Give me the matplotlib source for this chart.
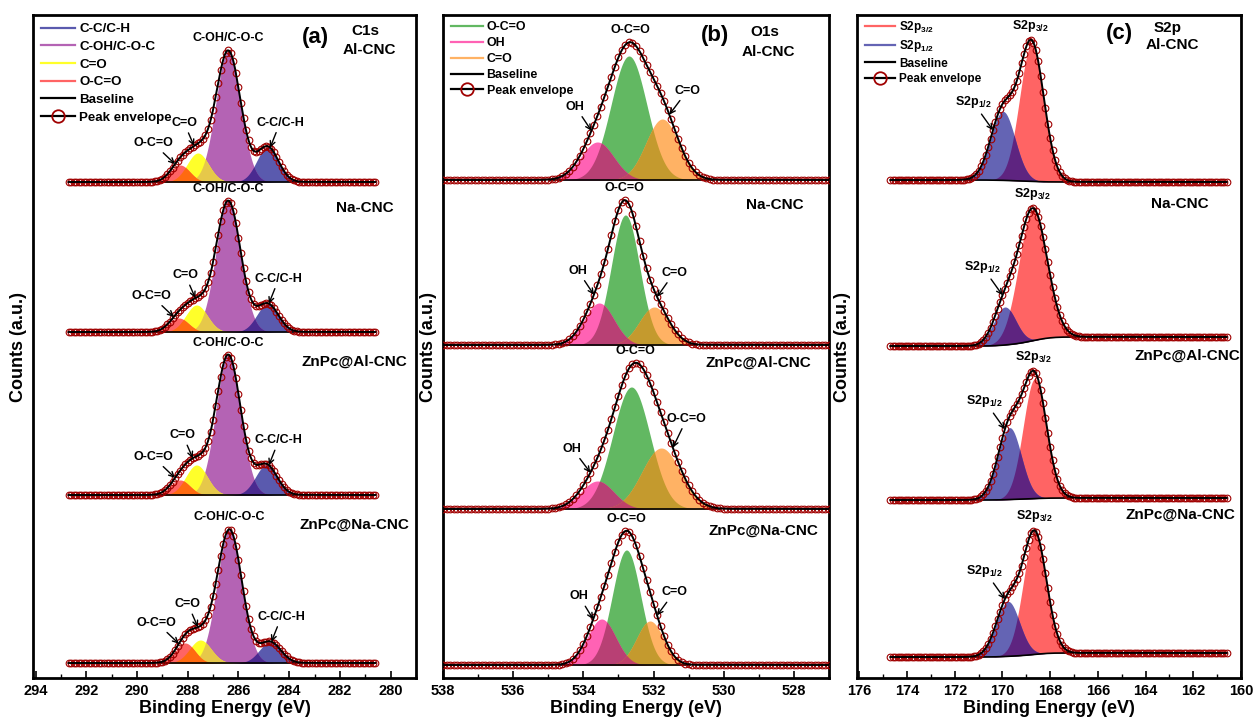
import numpy as np
import matplotlib
matplotlib.use('Agg')
import matplotlib.pyplot as plt
from matplotlib.lines import Line2D
from matplotlib.ticker import MultipleLocator

plt.rcParams['font.family'] = ['Liberation Sans', 'DejaVu Sans']
plt.rcParams['font.weight'] = 'bold'
plt.rcParams['mathtext.fontset'] = 'custom'
plt.rcParams['mathtext.bf'] = 'Liberation Sans:bold'
plt.rcParams['mathtext.rm'] = 'Liberation Sans:bold'

# ---------------- data ----------------
samples = ['Al-CNC', 'Na-CNC', 'ZnPc@Al-CNC', 'ZnPc@Na-CNC']

# C1s peak fits (centre eV, height a.u., FWHM eV) per sample
c1s_names = ['C-C/C-H', 'C-OH/C-O-C', 'C=O', 'O-C=O']
c1s_center = [[284.85, 286.40, 287.60, 288.30],
              [284.85, 286.40, 287.65, 288.35],
              [284.90, 286.40, 287.65, 288.30],
              [284.75, 286.35, 287.50, 288.10]]
c1s_height = [[0.35, 1.31, 0.29, 0.17],
              [0.28, 1.31, 0.27, 0.14],
              [0.30, 1.40, 0.30, 0.15],
              [0.21, 1.33, 0.23, 0.20]]
c1s_fwhm = [[1.0, 1.15, 1.0, 0.9],
            [1.0, 1.15, 1.0, 0.9],
            [1.0, 1.15, 1.0, 0.9],
            [1.0, 1.15, 1.0, 0.9]]
c1s_base_hi = [4.96, 3.46, 1.83, 0.15]
c1s_base_lo = [4.96, 3.46, 1.83, 0.15]
c1s_range = [292.7, 280.6]
c1s_top_label = ['C-OH/C-O-C'] * 4
c1s_arrow_labels = [['C-C/C-H', 'C=O', 'O-C=O']] * 4
c1s_arrow_energy = [[284.75, 287.75, 288.50],
                    [284.80, 287.70, 288.55],
                    [284.80, 287.80, 288.50],
                    [284.70, 287.60, 288.35]]

# O1s
o1s_names = ['O-C=O', 'OH', 'C=O']
o1s_center = [[532.70, 533.60, 531.75],
              [532.80, 533.55, 531.98],
              [532.63, 533.60, 531.78],
              [532.77, 533.48, 532.10]]
o1s_height = [[1.24, 0.38, 0.61],
              [1.30, 0.42, 0.38],
              [1.22, 0.28, 0.61],
              [1.15, 0.46, 0.44]]
o1s_fwhm = [[1.20, 1.10, 1.10],
            [0.95, 1.00, 1.00],
            [1.25, 1.10, 1.30],
            [0.95, 0.95, 0.90]]
o1s_base_hi = [4.98, 3.33, 1.69, 0.13]
o1s_base_lo = [4.98, 3.33, 1.69, 0.13]
o1s_range = [538.0, 527.0]
o1s_top_label = ['O-C=O'] * 4
o1s_arrow_labels = [['OH', 'C=O'], ['OH', 'C=O'], ['OH', 'O-C=O'], ['OH', 'C=O']]
o1s_arrow_energy = [[533.77, 531.55],
                    [533.70, 531.90],
                    [533.80, 531.45],
                    [533.72, 531.90]]

# S2p
s2p_names = [r'$\mathbf{S2p_{3/2}}$', r'$\mathbf{S2p_{1/2}}$']
s2p_center = [[168.77, 169.98],
              [168.72, 169.90],
              [168.64, 169.70],
              [168.64, 169.77]]
s2p_height = [[1.37, 0.69],
              [1.31, 0.38],
              [1.20, 0.72],
              [1.20, 0.55]]
s2p_fwhm = [[1.20, 1.20],
            [1.40, 1.10],
            [1.15, 1.15],
            [1.15, 1.15]]
s2p_base_hi = [4.98, 3.32, 1.78, 0.21]
s2p_base_lo = [4.96, 3.41, 1.80, 0.25]
s2p_range = [174.7, 160.6]
s2p_top_label = [r'$\mathbf{S2p_{3/2}}$'] * 4
s2p_arrow_labels = [[r'$\mathbf{S2p_{1/2}}$']] * 4
s2p_arrow_energy = [[170.40], [170.00], [169.90], [169.90]]

# ---------------- style ----------------
c1s_colors = ['#5a5aae', '#b463b4', '#ffff2a', '#ff6464']
o1s_colors = ['#62b862', '#ff62b4', '#ffb264']
s2p_colors = ['#ff6464', '#6464b4']
c1s_overlaps = {(0, 1): '#4a2a90', (1, 2): '#e6c84a', (2, 3): '#ff6a10'}
o1s_overlaps = {(0, 1): '#b84074', (0, 2): '#c49a2e', (1, 2): '#c0406a'}
s2p_overlaps = {(0, 1): '#5e2480'}

# text offsets (pixels) of arrow labels from their target points, per row
c1s_arrow_off = [[(10, 25), (-10, 23), (-22, 21)]] * 4
o1s_arrow_off = [[(-16, 24), (18, 24)],
                 [(-16, 24), (17, 24)],
                 [(-18, 24), (14, 29)],
                 [(-14, 23), (17, 23)]]
s2p_arrow_off = [[(-20, 28)]] * 4

FIG_W, FIG_H = 1256, 719
fig = plt.figure(figsize=(FIG_W / 100, FIG_H / 100), dpi=100)

def gauss(x, c, h, w):
    s = w / 2.3548
    return h * np.exp(-0.5 * ((x - c) / s) ** 2)

def draw_panel(ax, centers, heights, fwhms, base_hi, base_lo, erange, colors,
               overlaps, top_label, arrow_labels, arrow_energy, arrow_off):
    e = np.arange(erange[1], erange[0] + 1e-9, 0.1)
    ef = np.linspace(erange[1], erange[0], 1500)
    for r in range(len(centers)):
        def model(x):
            comps = [gauss(x, c, h, w) for c, h, w in zip(centers[r], heights[r], fwhms[r])]
            tot = np.sum(comps, axis=0)
            cum = np.cumsum(tot)
            frac = cum / cum[-1] if cum[-1] > 0 else cum
            base = base_lo[r] + (base_hi[r] - base_lo[r]) * frac
            return comps, tot, base
        comps, tot, base = model(ef)
        env = base + tot
        mask = tot > 0.004 * tot.max()
        idx = np.where(mask)[0]
        sl = slice(idx[0], idx[-1] + 1)
        for i, comp in enumerate(comps):
            ax.fill_between(ef[sl], base[sl], base[sl] + comp[sl], color=colors[i],
                            lw=0, zorder=1)
        for (i, j), col in overlaps.items():
            ov = np.minimum(comps[i], comps[j])
            ax.fill_between(ef[sl], base[sl], base[sl] + ov[sl], color=col, lw=0, zorder=1.5)
        ax.plot(ef[sl], base[sl], color='black', lw=1.2, zorder=2)
        # data points
        comps_d, tot_d, base_d = model(e)
        ax.plot(e, base_d + tot_d, ls='none', marker='o', ms=4.8, mfc='none',
                mec='#a00000', mew=0.8, zorder=3)
        ax.plot(ef, env, color='black', lw=1.4, zorder=4)
        # top label
        k = int(np.argmax(env))
        ax.annotate(top_label[r], xy=(ef[k], env[k]), xytext=(0, 6),
                    textcoords='offset pixels', ha='center', va='bottom',
                    fontsize=9, fontweight='bold', zorder=5)
        for lab, en, off in zip(arrow_labels[r], arrow_energy[r], arrow_off[r]):
            yv = np.interp(en, ef, env)
            ax.annotate(lab, xy=(en, yv), xytext=off, textcoords='offset pixels',
                        ha='center', va='center', fontsize=9, fontweight='bold',
                        arrowprops=dict(arrowstyle='->', color='black', lw=1.0,
                                        shrinkA=1, shrinkB=0), zorder=5)

def setup_axes(ax, xlim, major):
    ax.set_xlim(*xlim)
    ax.set_ylim(0, 6.63)
    ax.set_yticks([])
    ax.xaxis.set_major_locator(MultipleLocator(major))
    ax.xaxis.set_minor_locator(MultipleLocator(major / 2))
    ax.tick_params(axis='x', which='major', direction='in', length=5, width=1.2,
                   labelsize=10.5, pad=4, top=False)
    ax.tick_params(axis='x', which='minor', direction='in', length=3, width=1.0, top=False)
    for lab in ax.get_xticklabels():
        lab.set_fontweight('bold')
    for sp in ax.spines.values():
        sp.set_linewidth(2.0)
    ax.set_xlabel('Binding Energy (eV)', fontsize=13, fontweight='bold', labelpad=2)
    ax.set_ylabel('Counts (a.u.)', fontsize=13, fontweight='bold', labelpad=4)

def legend(ax, names, colors, anchor, spacing, size):
    handles = [Line2D([], [], color=c, lw=1.6) for c in colors]
    handles.append(Line2D([], [], color='black', lw=1.6))
    handles.append(Line2D([], [], color='black', lw=1.6, marker='o', ms=9,
                          mfc='none', mec='#a00000', mew=1.3))
    labels = list(names) + ['Baseline', 'Peak envelope']
    ax.legend(handles, labels, loc='upper left', bbox_to_anchor=anchor, frameon=False,
              handlelength=2.6, handletextpad=0.3, labelspacing=spacing,
              borderaxespad=0, borderpad=0, prop={'weight': 'bold', 'size': size})

def axes_at(x0, x1, y0=15, y1=678):
    return fig.add_axes([x0 / FIG_W, 1 - y1 / FIG_H, (x1 - x0) / FIG_W, (y1 - y0) / FIG_H])

def put(ax, px, py, s, size, x0, x1, y0=15, y1=678, ha='center'):
    ax.text((px - x0) / (x1 - x0), (y1 - py) / (y1 - y0), s, transform=ax.transAxes,
            ha=ha, va='center', fontsize=size, fontweight='bold')

# panel (a)
ax1 = axes_at(33, 416)
setup_axes(ax1, (294.1, 279.0), 2)
draw_panel(ax1, c1s_center, c1s_height, c1s_fwhm, c1s_base_hi, c1s_base_lo, c1s_range,
           c1s_colors, c1s_overlaps, c1s_top_label, c1s_arrow_labels, c1s_arrow_energy,
           c1s_arrow_off)
legend(ax1, c1s_names, c1s_colors, (0.02, 0.988), 0.40, 9.6)
put(ax1, 315, 37, '(a)', 16, 33, 416)
put(ax1, 365, 31, 'C1s', 11, 33, 416)
put(ax1, 369, 50, samples[0], 11, 33, 416)
put(ax1, 365, 208, samples[1], 11, 33, 416)
put(ax1, 354, 362, samples[2], 11, 33, 416)
put(ax1, 354, 525, samples[3], 11, 33, 416)

# panel (b)
ax2 = axes_at(443, 829)
setup_axes(ax2, (538.0, 527.0), 2)
draw_panel(ax2, o1s_center, o1s_height, o1s_fwhm, o1s_base_hi, o1s_base_lo, o1s_range,
           o1s_colors, o1s_overlaps, o1s_top_label, o1s_arrow_labels, o1s_arrow_energy,
           o1s_arrow_off)
legend(ax2, o1s_names, o1s_colors, (0.02, 0.991), 0.32, 8.9)
put(ax2, 715, 35, '(b)', 16, 443, 829)
put(ax2, 765, 32, 'O1s', 11, 443, 829)
put(ax2, 768, 52, samples[0], 11, 443, 829)
put(ax2, 775, 205, samples[1], 11, 443, 829)
put(ax2, 758, 363, samples[2], 11, 443, 829)
put(ax2, 763, 531, samples[3], 11, 443, 829)

# panel (c)
ax3 = axes_at(857, 1241)
setup_axes(ax3, (176.1, 160.0), 2)
draw_panel(ax3, s2p_center, s2p_height, s2p_fwhm, s2p_base_hi, s2p_base_lo, s2p_range,
           s2p_colors, s2p_overlaps, s2p_top_label, s2p_arrow_labels, s2p_arrow_energy,
           s2p_arrow_off)
legend(ax3, s2p_names, s2p_colors, (0.02, 0.994), 0.28, 8.5)
put(ax3, 1119, 33, '(c)', 16, 857, 1241)
put(ax3, 1168, 28, 'S2p', 11, 857, 1241)
put(ax3, 1172, 45, samples[0], 11, 857, 1241)
put(ax3, 1180, 204, samples[1], 11, 857, 1241)
put(ax3, 1187, 356, samples[2], 11, 857, 1241)
put(ax3, 1180, 515, samples[3], 11, 857, 1241)

fig.savefig('out.png', dpi=100, facecolor='white')
